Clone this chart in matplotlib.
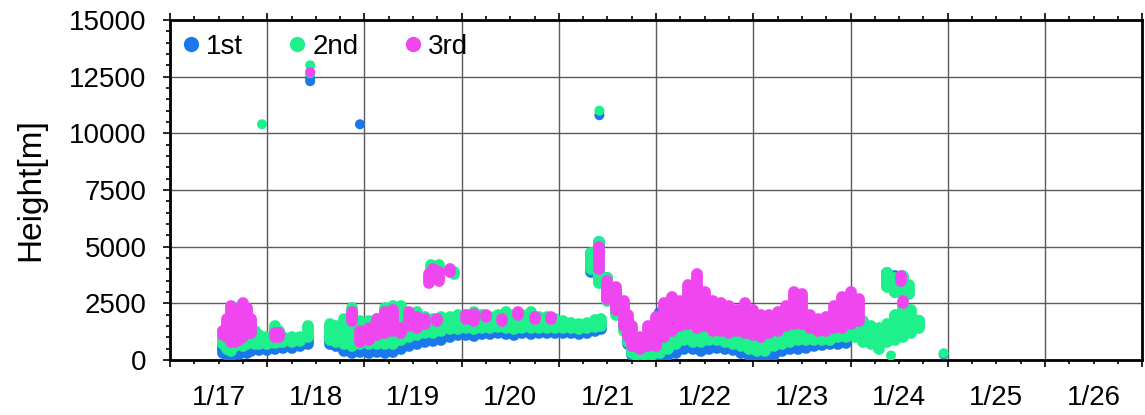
import matplotlib
matplotlib.use("Agg")
import matplotlib.pyplot as plt
from matplotlib.lines import Line2D
from matplotlib.ticker import MultipleLocator
import numpy as np

plt.rcParams['font.family'] = ['Liberation Sans', 'DejaVu Sans']

# x values: hours since 1/17 00:00
day_labels = ["1/17", "1/18", "1/19", "1/20", "1/21", "1/22", "1/23", "1/24", "1/25", "1/26"]
series_names = ["1st", "2nd", "3rd"]
colors = ["#1a78ea", "#1ef08c", "#f046f0"]

# ---- 1st (blue): band of heights per time (t, low, high)
t1 = [13, 14, 15, 16, 17, 18, 19, 20, 22, 24, 26, 28, 30, 32, 34,
      39.5, 41, 43, 45, 47, 49, 51, 53, 55, 57, 59, 61, 63, 65, 67, 69, 71,
      73, 75, 77, 79, 81, 83, 85, 87, 89, 91, 93, 95, 97, 99, 101, 103, 105, 106.5,
      104, 106, 108, 110, 112, 113, 114, 115, 117, 119, 121, 123, 125, 127, 129,
      131, 133, 135, 137, 139, 141, 143, 145, 147, 149, 151, 153, 155, 157, 159,
      161, 163, 165, 167, 183, 185, 177, 179, 181]
lo1 = [300, 200, 150, 300, 250, 350, 300, 400, 450, 450, 500, 550, 550, 600, 700,
       700, 600, 400, 300, 350, 300, 350, 300, 350, 500, 600, 700, 800, 850, 900, 1000, 1100,
       1100, 1050, 1150, 1150, 1200, 1150, 1100, 1200, 1150, 1200, 1200, 1200, 1200, 1200, 1150, 1200, 1300, 1350,
       3900, 3600, 2900, 2300, 1500, 700, 200, 100, 100, 100, 100, 200, 300, 500, 500,
       400, 500, 550, 500, 450, 300, 200, 100, 100, 200, 400, 500, 500, 550, 600,
       650, 700, 700, 750, 1500, 1500, 3300, 3000, 3200]
hi1 = [900, 700, 600, 700, 650, 700, 650, 700, 700, 700, 700, 750, 750, 800, 900,
       1000, 900, 800, 700, 700, 650, 650, 600, 650, 800, 900, 1000, 1050, 1100, 1150, 1200, 1300,
       1350, 1300, 1350, 1400, 1400, 1400, 1350, 1400, 1400, 1400, 1400, 1400, 1400, 1400, 1350, 1400, 1500, 1600,
       4700, 5200, 3600, 3000, 2300, 1500, 800, 500, 400, 400, 500, 600, 800, 900, 800,
       700, 800, 850, 800, 700, 650, 500, 400, 400, 600, 700, 800, 800, 850, 850,
       900, 900, 950, 1000, 1800, 1700, 3850, 3700, 3600]
pt1_t = [34.6, 34.6, 46.9, 106, 191, 120.7]
pt1_h = [12300, 12450, 10400, 10800, 250, 2100]

# ---- 2nd (green)
t2 = [13, 14, 15, 16, 17, 18, 19, 20, 21, 22, 24, 26, 27, 28, 30, 32, 34,
      39.5, 41, 43, 45, 47, 49, 51, 53, 55, 57, 59, 61, 63, 65, 67, 69, 71,
      73, 75, 77, 79, 81, 83, 85, 87, 89, 91, 93, 95, 97, 99, 101, 103, 105, 106.5,
      104, 106, 108, 110, 112, 113, 114, 115, 117, 119, 121, 123, 125, 127, 129,
      131, 133, 135, 137, 139, 141, 143, 145, 147, 149, 151, 153, 155, 157, 159,
      161, 163, 165, 167, 169, 171, 173, 175, 177, 179, 181, 183, 185,
      177, 179, 181, 182.5, 64.5, 66.5, 70]
lo2 = [700, 500, 400, 600, 700, 600, 700, 800, 700, 700, 700, 750, 800, 800, 800, 850, 1000,
       900, 800, 700, 600, 700, 700, 700, 700, 700, 900, 1000, 1100, 1200, 1200, 1300, 1350, 1350,
       1400, 1350, 1400, 1400, 1450, 1400, 1350, 1400, 1400, 1400, 1400, 1400, 1400, 1400, 1350, 1400, 1450, 1500,
       4000, 3400, 2600, 2000, 1300, 800, 300, 200, 200, 200, 300, 500, 700, 900, 800,
       800, 900, 900, 800, 700, 600, 500, 400, 400, 600, 700, 800, 900, 900, 900,
       900, 900, 1000, 1000, 1000, 800, 700, 500, 800, 900, 1000, 1200, 1400,
       3200, 3000, 3000, 2900, 3900, 4000, 3800]
hi2 = [1300, 1500, 2000, 2300, 2300, 2100, 2000, 1700, 1300, 1100, 1000, 1500, 1300, 1000, 1000, 1000, 1500,
       1600, 1500, 1800, 2300, 1700, 1700, 1800, 2300, 2400, 2400, 2000, 2100, 1900, 1800, 1900, 1900, 2000,
       2000, 2100, 2000, 1900, 2000, 2100, 2000, 2000, 2100, 1900, 1900, 1800, 1700, 1650, 1600, 1650, 1750, 1800,
       4700, 5200, 3600, 3000, 2400, 1700, 1000, 700, 600, 700, 1000, 1500, 1600, 2000, 1700,
       1600, 1700, 1500, 1500, 1400, 1300, 1200, 1100, 1100, 1300, 1500, 1500, 1400, 1400, 1300,
       1300, 1300, 1400, 2000, 1900, 1700, 1500, 1400, 1600, 2000, 2500, 2200, 1700,
       3850, 3600, 3700, 3300, 4200, 4200, 3900]
pt2_t = [22.7, 34.6, 34.6, 106, 178, 191]
pt2_h = [10400, 12650, 13000, 11000, 200, 300]

# ---- 3rd (magenta)
t3 = [13, 14, 15, 16, 17, 18, 19, 20, 26, 27,
      45, 47, 49, 51, 53, 55, 57, 59, 61, 63, 66, 73, 75, 78, 82, 86, 90, 94,
      64, 65, 66.5, 69,
      106, 108, 110, 112, 113, 114, 116, 118, 120, 122, 124, 126, 128, 130, 132, 134,
      136, 138, 140, 142, 144, 146, 148, 150, 152, 154, 156, 158, 160, 162, 164, 166,
      168, 170, 181, 180.5]
lo3 = [1100, 1000, 800, 800, 900, 1000, 1300, 1200, 1000, 1000,
       1700, 800, 900, 1100, 1200, 1300, 1200, 1500, 1400, 1600, 1700, 1800, 1700, 1900, 1700, 2000, 1800, 1800,
       3400, 3600, 3500, 3900,
       4000, 2700, 2200, 1500, 1000, 600, 500, 600, 600, 1000, 1300, 1500, 1600, 1400, 1500, 1300,
       1300, 1200, 1300, 1200, 1100, 1000, 1200, 1300, 1500, 1600, 1600, 1400, 1300, 1300, 1400, 1400,
       1600, 1700, 2500, 3500]
hi3 = [1300, 1800, 2400, 2200, 2100, 2500, 2300, 1800, 1200, 1200,
       2100, 1300, 1400, 1800, 2100, 2200, 1400, 2100, 1900, 1800, 1800, 2000, 2050, 2000, 1800, 2100, 1900, 1900,
       3800, 4000, 3900, 4000,
       5000, 3500, 3200, 2600, 2000, 1500, 1000, 1500, 1900, 2500, 2800, 2600, 3300, 3800, 3000, 2600,
       2500, 2400, 2200, 2500, 2200, 2000, 2000, 2100, 2400, 3000, 2900, 2000, 1800, 1900, 2400, 2800,
       3000, 2700, 2600, 3700]
pt3_t = [34.6]
pt3_h = [12700]

fig = plt.figure(figsize=(11.45, 4.15), dpi=100)
ax = fig.add_axes([0.1485, 0.1325, 0.849, 0.8193])

lw_pt = 8.5
bands = [(t1, lo1, hi1, pt1_t, pt1_h), (t2, lo2, hi2, pt2_t, pt2_h), (t3, lo3, hi3, pt3_t, pt3_h)]
for i, (t, lo, hi, pt, ph) in enumerate(bands):
    lc = ax.vlines(t, lo, hi, colors=colors[i], linewidth=lw_pt, zorder=3 + i)
    lc.set_capstyle('round')
    ax.scatter(pt, ph, s=(lw_pt * 0.85) ** 2, color=colors[i], edgecolors='none', zorder=3 + i)

ax.set_xlim(0, 240)
ax.set_ylim(0, 15000)
ax.xaxis.set_major_locator(MultipleLocator(24))
ax.xaxis.set_minor_locator(MultipleLocator(6))
ax.yaxis.set_major_locator(MultipleLocator(2500))
ax.yaxis.set_minor_locator(MultipleLocator(500))
ax.set_xticklabels([])
ax.grid(True, which='major', color='#5a5a5a', linewidth=1.0, zorder=1)
ax.set_axisbelow(True)
ax.tick_params(axis='both', which='both', direction='out', top=True, right=False, width=1.2)
ax.tick_params(axis='both', which='major', length=5)
ax.tick_params(axis='both', which='minor', length=3)
ax.tick_params(axis='y', labelsize=20, pad=12)
for s in ax.spines.values():
    s.set_linewidth(2.0)

sec = ax.secondary_xaxis('bottom')
sec.set_xticks([12 + 24 * k for k in range(10)], day_labels)
sec.tick_params(length=0, labelsize=20, pad=18)
sec.spines['bottom'].set_visible(False)

ax.set_ylabel("Height[m]", fontsize=24, labelpad=16)

handles = [Line2D([], [], marker='o', linestyle='none', markersize=11, color=c, markeredgewidth=0)
           for c in colors]
ax.legend(handles, series_names, loc='upper left', ncol=3, frameon=False, fontsize=20,
          handlelength=0.5, handletextpad=0.3, columnspacing=1.7, borderaxespad=0.1,
          bbox_to_anchor=(0.0, 1.0))

fig.savefig("out.png", dpi=100)
